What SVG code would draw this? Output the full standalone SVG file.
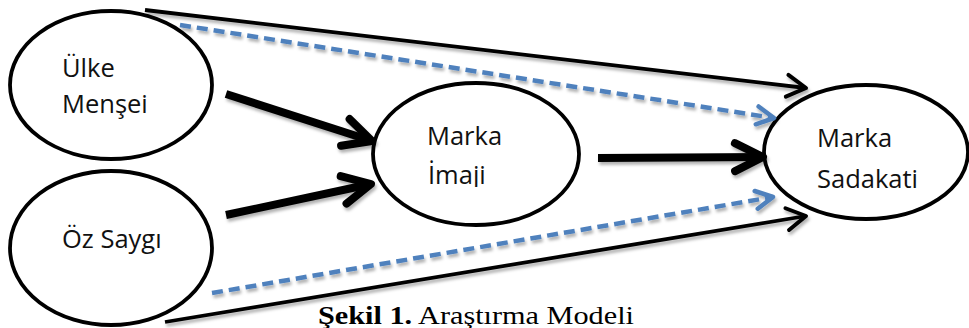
<svg xmlns="http://www.w3.org/2000/svg" width="969" height="328" viewBox="0 0 969 328">
<style>
.node ellipse{fill:#fff;stroke:#000;stroke-width:3.8}
.lbl{font-family:"Open Sans","Liberation Sans",sans-serif;font-size:25.5px;fill:#111}
.thin{stroke:#000;stroke-width:3.8;fill:none}
.thick{stroke:#000;stroke-width:8;fill:none}
.dash{stroke:#4F81BD;stroke-width:4.5;fill:none;stroke-dasharray:11 6}
.cap{font-family:"Liberation Serif","DejaVu Serif",serif;font-size:25px;fill:#000}
</style>
<defs>
<filter id="sh" x="-5%" y="-20%" width="110%" height="160%">
<feDropShadow dx="1.5" dy="3" stdDeviation="1.5" flood-color="#000" flood-opacity="0.3"/>
</filter>
<marker id="aThin" markerUnits="userSpaceOnUse" viewBox="0 0 30 30" markerWidth="30" markerHeight="30" refX="26" refY="15" orient="auto">
<path d="M7,4 L26,15 L7,26" fill="none" stroke="#000" stroke-width="4" stroke-linecap="round" stroke-linejoin="round" stroke-dasharray="none"/>
</marker>
<marker id="aThick" markerUnits="userSpaceOnUse" viewBox="0 0 44 44" markerWidth="44" markerHeight="44" refX="37" refY="22" orient="auto">
<path d="M9,8 L37,22 L9,36" fill="none" stroke="#000" stroke-width="8" stroke-linecap="round" stroke-linejoin="round" stroke-dasharray="none"/>
</marker>
<marker id="aBlue" markerUnits="userSpaceOnUse" viewBox="0 0 30 30" markerWidth="30" markerHeight="30" refX="25" refY="15" orient="auto">
<path d="M8,6 L25,15 L8,24" fill="none" stroke="#4F81BD" stroke-width="4.5" stroke-linecap="round" stroke-linejoin="round" stroke-dasharray="none"/>
</marker>
<clipPath id="clipImaji"><rect x="400" y="100" width="150" height="87"/></clipPath>
</defs>
<g id="ulke" class="node">
<ellipse cx="111" cy="85" rx="101" ry="74"/>
<text class="lbl" x="62" y="77">Ülke</text>
<text class="lbl" x="62" y="113">Menşei</text>
</g>
<g id="ozsaygi" class="node">
<ellipse cx="111" cy="248" rx="101" ry="77"/>
<text class="lbl" x="62" y="248">Öz Saygı</text>
</g>
<g id="imaj" class="node">
<ellipse cx="476" cy="154" rx="103" ry="71"/>
<text class="lbl" x="427" y="145">Marka</text>
<text class="lbl" x="428" y="184" clip-path="url(#clipImaji)">İmaji</text>
</g>
<g id="sadakat" class="node">
<ellipse cx="866" cy="152" rx="102" ry="67"/>
<text class="lbl" x="817" y="147">Marka</text>
<text class="lbl" x="817" y="188">Sadakati</text>
</g>
<g id="connectors" filter="url(#sh)">
<line class="thin" x1="145" y1="10" x2="806" y2="88" marker-end="url(#aThin)"/>
<line class="dash" x1="180" y1="25" x2="774" y2="118" marker-end="url(#aBlue)"/>
<line class="thick" x1="226" y1="94" x2="372" y2="141" marker-end="url(#aThick)"/>
<line class="thick" x1="226" y1="215" x2="371" y2="184" marker-end="url(#aThick)"/>
<line class="thick" x1="598" y1="158" x2="763" y2="157" marker-end="url(#aThick)"/>
<line class="dash" x1="212" y1="293" x2="773" y2="197" marker-end="url(#aBlue)"/>
<line class="thin" x1="165" y1="322" x2="806" y2="216" marker-end="url(#aThin)"/>
</g>
<text class="cap" x="318" y="324" textLength="316" lengthAdjust="spacingAndGlyphs"><tspan font-weight="bold">Şekil 1.</tspan> Araştırma Modeli</text>
</svg>
